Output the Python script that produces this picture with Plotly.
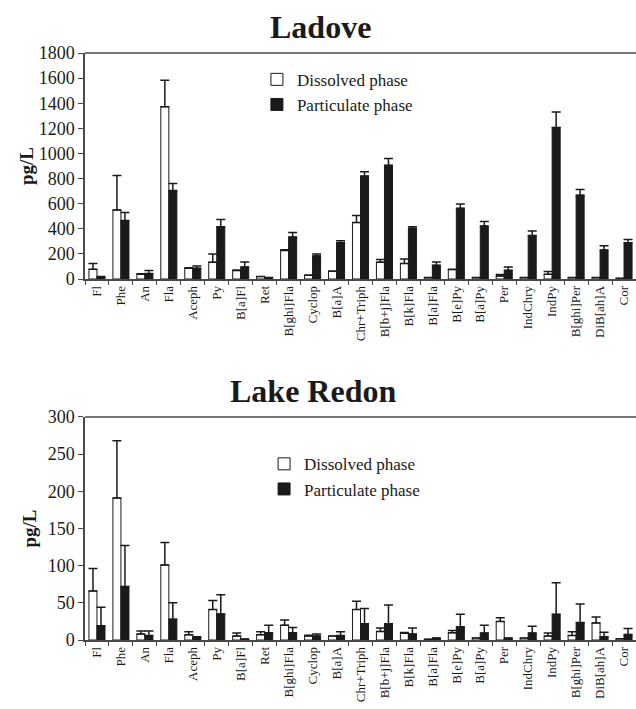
import plotly.graph_objects as go

categories = ["Fl", "Phe", "An", "Fla", "Aceph", "Py", "B[a]Fl", "Ret", "B[ghi]Fla", "Cyclop",
              "B[a]A", "Chr+Triph", "B[b+j]Fla", "B[k]Fla", "B[a]Fla", "B[e]Py", "B[a]Py", "Per",
              "IndChry", "IndPy", "B[ghi]Per", "DiB[ah]A", "Cor"]

# Ladove (pg/L)
ladove_dissolved = [77, 550, 37, 1372, 85, 134, 67, 19, 227, 29, 61, 449, 134, 123, 11, 75, 11, 24, 11, 37, 11, 11, 5]
ladove_dissolved_err = [46, 275, 5, 211, 5, 66, 5, 0, 5, 3, 3, 56, 21, 37, 0, 3, 0, 11, 0, 22, 0, 0, 0]
ladove_particulate = [16, 465, 43, 705, 85, 417, 96, 11, 334, 184, 288, 820, 905, 403, 109, 563, 422, 69, 347, 1207, 668, 230, 288]
ladove_particulate_err = [3, 64, 24, 56, 19, 56, 40, 0, 37, 16, 16, 34, 54, 14, 27, 35, 35, 27, 35, 123, 45, 34, 27]

# Lake Redon (pg/L)
redon_dissolved = [66, 191, 8, 101, 7, 41, 5.3, 7, 20, 5.3, 5.3, 41, 11.5, 9, 1, 9.7, 2.7, 25, 2.7, 5.3, 6, 23, 1.8]
redon_dissolved_err = [30, 77, 4, 30, 4, 12, 4, 4, 7, 1, 0, 11, 4.5, 1, 0, 3, 0, 5, 0, 4, 5, 8, 0]
redon_particulate = [19, 72, 6, 28, 3.5, 35, 1.3, 9.7, 9.7, 5.3, 6, 22, 22, 8, 2.7, 17.7, 9.3, 2.7, 9.3, 34.5, 23.5, 4.4, 7.5]
redon_particulate_err = [25, 55, 6, 22, 1, 26, 0, 10, 7, 2.7, 5, 20.5, 25, 8, 0, 17, 10.7, 0, 9.3, 42.5, 25, 6, 8]

FONT = "Liberation Serif, Times New Roman, serif"
AX = "#4a4a4a"
BLACK = "#1a1a1a"
zeros = [0] * len(categories)


def err(arr):
    return dict(type="data", array=arr, arrayminus=zeros, symmetric=False,
                color=BLACK, thickness=1.5, width=4.5)


fig = go.Figure()
for (d, de, p, pe, xa, ya, lg) in [
    (ladove_dissolved, ladove_dissolved_err, ladove_particulate, ladove_particulate_err, "x", "y", "legend"),
    (redon_dissolved, redon_dissolved_err, redon_particulate, redon_particulate_err, "x2", "y2", "legend2"),
]:
    fig.add_trace(go.Bar(x=categories, y=d, name="Dissolved phase", xaxis=xa, yaxis=ya,
                         marker=dict(color="white", line=dict(color=BLACK, width=1)),
                         error_y=err(de), legend=lg, legendgroup=lg + "d"))
    fig.add_trace(go.Bar(x=categories, y=p, name="Particulate phase", xaxis=xa, yaxis=ya,
                         marker=dict(color=BLACK, line=dict(color=BLACK, width=1)),
                         error_y=err(pe), legend=lg, legendgroup=lg + "p"))

xcommon = dict(type="category", tickson="boundaries", ticks="outside", ticklen=4, tickwidth=1,
               tickcolor=AX, showline=True, linecolor=AX, linewidth=1.5, tickangle=-90,
               tickfont=dict(family=FONT, size=13, color=BLACK), showgrid=False,
               domain=[0, 1], automargin=False)
ycommon = dict(ticks="outside", ticklen=5, tickwidth=1, tickcolor=AX, showline=True, linecolor=AX,
               linewidth=1.5, showgrid=False, zeroline=False,
               tickfont=dict(family=FONT, size=18, color=BLACK), automargin=False)

fig.update_layout(
    width=636, height=709,
    margin=dict(l=85, r=0, t=53, b=69),
    paper_bgcolor="white", plot_bgcolor="white",
    barmode="group", bargap=0.33, bargroupgap=0,
    font=dict(family=FONT, color=BLACK),
    xaxis=dict(anchor="y", **xcommon),
    xaxis2=dict(anchor="y2", **xcommon),
    yaxis=dict(anchor="x", domain=[0.615, 1], range=[0, 1800], dtick=200,
               title=dict(text="<b>pg/L</b>", font=dict(family=FONT, size=19, color=BLACK), standoff=0),
               **ycommon),
    yaxis2=dict(anchor="x2", domain=[0, 0.38], range=[0, 300], dtick=50,
                title=dict(text="<b>pg/L</b>", font=dict(family=FONT, size=19, color=BLACK), standoff=6),
                **ycommon),
    legend=dict(x=0.312, y=0.985, xanchor="left", yanchor="top", bgcolor="rgba(0,0,0,0)",
                font=dict(family=FONT, size=17, color=BLACK), tracegroupgap=9, traceorder="normal"),
    legend2=dict(x=0.325, y=0.33, xanchor="left", yanchor="top", bgcolor="rgba(0,0,0,0)",
                 font=dict(family=FONT, size=17, color=BLACK), tracegroupgap=9, traceorder="normal"),
    showlegend=True,
    shapes=[
        dict(type="line", xref="x domain", yref="y domain", x0=0, x1=1, y0=1, y1=1,
             line=dict(color=AX, width=1.5)),
        dict(type="line", xref="x2 domain", yref="y2 domain", x0=0, x1=1, y0=1, y1=1,
             line=dict(color=AX, width=1.5)),
    ],
    annotations=[
        dict(text="<b>Ladove</b>", xref="paper", yref="paper", x=0.4265, y=1.0443,
             xanchor="center", yanchor="middle", showarrow=False,
             font=dict(family=FONT, size=32, color=BLACK)),
        dict(text="<b>Lake Redon</b>", xref="paper", yref="paper", x=0.4138, y=0.424,
             xanchor="center", yanchor="middle", showarrow=False,
             font=dict(family=FONT, size=32, color=BLACK)),
    ],
)

fig.write_html("out.html", config={"displayModeBar": False},
               post_script="document.body.style.margin='0';document.body.style.padding='0';"
                           "document.body.style.overflow='hidden';")
